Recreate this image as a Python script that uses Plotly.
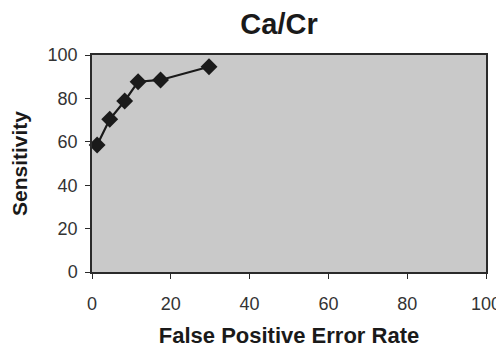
import plotly.graph_objects as go

fpr = [1.3, 4.5, 8.3, 11.7, 17.4, 29.7]
sensitivity = [58.5, 70.4, 78.8, 87.7, 88.5, 94.6]
x_ticks = [0, 20, 40, 60, 80, 100]
y_ticks = [0, 20, 40, 60, 80, 100]

# page body has an 8px margin; size the figure to fit the 504x349 window
W, H = 496, 341

fig = go.Figure()
fig.add_trace(go.Scatter(
    x=fpr, y=sensitivity, mode="lines+markers",
    line=dict(color="#1a1a1a", width=2.2),
    marker=dict(symbol="diamond", size=13, color="#1a1a1a"),
    showlegend=False, cliponaxis=False,
))

axis_common = dict(
    range=[0, 100], showgrid=False, zeroline=False, automargin=False,
    showline=True, linecolor="#2a2a2a", linewidth=1.5, mirror=True,
    ticks="outside", ticklen=5, tickcolor="#2a2a2a",
    tickfont=dict(size=18, color="#333"),
)

fig.update_layout(
    width=W, height=H,
    margin=dict(l=84, r=18, t=47, b=77),
    paper_bgcolor="white",
    plot_bgcolor="#c9c9c9",
    font=dict(family="Arial, Liberation Sans, sans-serif", color="#222"),
    title=dict(text="<b>Ca/Cr</b>", xref="container", x=(279 - 8) / W, xanchor="center",
               yref="container", y=1 - 16 / H, yanchor="middle",
               font=dict(size=29, color="#1a1a1a")),
    xaxis=dict(axis_common, tickvals=x_ticks, ticklabelstandoff=10,
               title=dict(text="<b>False Positive Error Rate</b>",
                          font=dict(size=22, color="#1a1a1a"), standoff=14)),
    yaxis=dict(axis_common, tickvals=y_ticks, ticklabelstandoff=4,
               title=dict(text="<b>Sensitivity</b>",
                          font=dict(size=21, color="#1a1a1a"), standoff=14)),
)

fig.write_html("out.html")
